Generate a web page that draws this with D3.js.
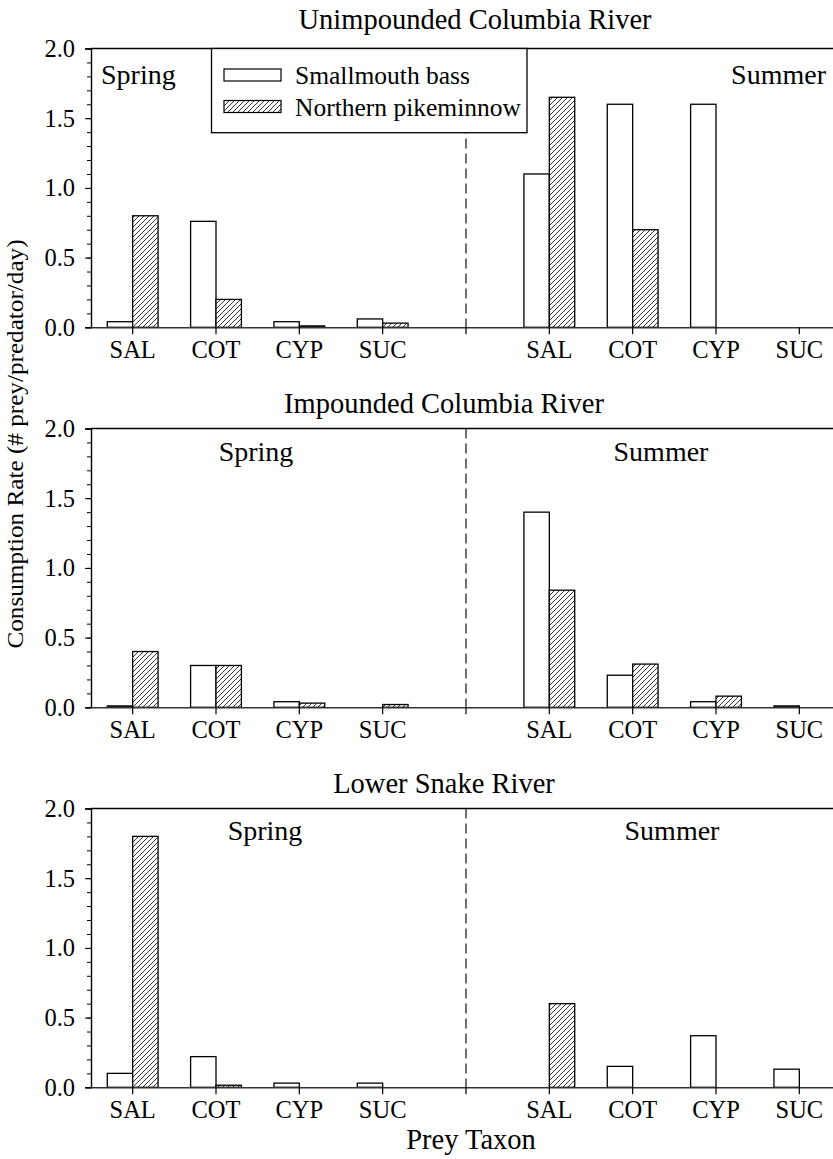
<!DOCTYPE html>
<html>
<head>
<meta charset="utf-8">
<script src="https://cdn.jsdelivr.net/npm/d3@7"></script>
<style>
  body { margin: 0; background: #fff; }
  svg { display: block; }
  text { font-family: "Liberation Serif", "Times New Roman", serif; fill: #000; }
</style>
</head>
<body>
<svg id="chart" width="833" height="1159"></svg>
<script>
// ---- data ----
const preyTaxa = ["SAL", "COT", "CYP", "SUC"];
const seasons = ["Spring", "Summer"];
const predators = ["Smallmouth bass", "Northern pikeminnow"];
const panelTitles = ["Unimpounded Columbia River", "Impounded Columbia River", "Lower Snake River"];
const yTickValues = [0, 0.5, 1.0, 1.5, 2.0];
const yMax = 2.0;

// consumption rate (# prey/predator/day), rows = season, columns = prey taxon
const unimpoundedBass = [[0.04, 0.76, 0.04, 0.06], [1.10, 1.60, 1.60, 0]];
const unimpoundedPike = [[0.80, 0.20, 0.01, 0.03], [1.65, 0.70, 0, 0]];
const impoundedBass   = [[0.01, 0.30, 0.04, 0], [1.40, 0.23, 0.04, 0.01]];
const impoundedPike   = [[0.40, 0.30, 0.03, 0.02], [0.84, 0.31, 0.08, 0]];
const snakeBass       = [[0.10, 0.22, 0.03, 0.03], [0, 0.15, 0.37, 0.13]];
const snakePike       = [[1.80, 0.015, 0, 0], [0.60, 0, 0, 0]];

const panelBass = [unimpoundedBass, impoundedBass, snakeBass];
const panelPike = [unimpoundedPike, impoundedPike, snakePike];

// ---- layout ----
const svg = d3.select("#chart");
const left = 91, right = 841;
const panelTop0 = 48.5, panelHeight = 278.8, panelStep = 380;
const titlePos = [[475, 29], [444, 413], [444, 793]];
// season label placement per panel: [x, baseline offset from panel top, anchor]
const seasonLabelPos = [
  [[101, 35, "start"], [826, 35, "end"]],
  [[256, 32.5, "middle"], [661, 32.5, "middle"]],
  [[265, 31.5, "middle"], [672, 31.5, "middle"]]
];

function label(g, x, y, str, size, anchor) {
  return g.append("text")
    .attr("x", x).attr("y", y)
    .attr("text-anchor", anchor || "start")
    .attr("font-size", size)
    .text(str);
}

// slots: four taxa per season with an empty slot between the seasons
const slotKeys = [
  ...preyTaxa.map(t => seasons[0] + "|" + t),
  "divider",
  ...preyTaxa.map(t => seasons[1] + "|" + t)
];
const x = d3.scaleBand().domain(slotKeys).range([left, right]).padding(0);
const barHalf = 25.4;
const xSub = d3.scaleBand().domain(predators).range([-barHalf, barHalf]).padding(0);

// hatch pattern for Northern pikeminnow
const defs = svg.append("defs");
const pat = defs.append("pattern")
  .attr("id", "hatch").attr("patternUnits", "userSpaceOnUse")
  .attr("width", 5).attr("height", 5);
pat.append("rect").attr("width", 5).attr("height", 5).attr("fill", "#fff");
pat.append("path")
  .attr("d", "M0,5 L5,0 M-1,1 L1,-1 M4,6 L6,4")
  .attr("stroke", "#000").attr("stroke-width", 0.8);

const fills = { "Smallmouth bass": "#fff", "Northern pikeminnow": "url(#hatch)" };

panelTitles.forEach((title, p) => {
  const top = panelTop0 + p * panelStep;
  const bottom = top + panelHeight;
  const y = d3.scaleLinear().domain([0, yMax]).range([bottom, top]);
  const g = svg.append("g");

  // panel title
  label(g, titlePos[p][0], titlePos[p][1], title, 28.5, "middle");

  // top frame line
  g.append("line")
    .attr("x1", left).attr("x2", right).attr("y1", top).attr("y2", top)
    .attr("stroke", "#000").attr("stroke-width", 1.4);

  // dashed divider between seasons
  const dx = x("divider") + x.bandwidth() / 2;
  g.append("line")
    .attr("x1", dx).attr("x2", dx).attr("y1", top).attr("y2", bottom)
    .attr("stroke", "#111").attr("stroke-width", 1.2)
    .attr("stroke-dasharray", "10,5");

  // bars
  const rows = [];
  seasons.forEach((s, si) => {
    preyTaxa.forEach((t, ti) => {
      rows.push({ key: s + "|" + t, pred: predators[0], v: panelBass[p][si][ti] });
      rows.push({ key: s + "|" + t, pred: predators[1], v: panelPike[p][si][ti] });
    });
  });
  g.selectAll("rect.bar").data(rows.filter(d => d.v > 0)).join("rect")
    .attr("class", "bar")
    .attr("x", d => x(d.key) + x.bandwidth() / 2 + xSub(d.pred))
    .attr("width", xSub.bandwidth())
    .attr("y", d => y(d.v))
    .attr("height", d => y(0) - y(d.v))
    .attr("fill", d => fills[d.pred])
    .attr("stroke", "#000").attr("stroke-width", 1.3);

  // y axis: minor ticks every 0.1, labelled majors every 0.5
  g.append("g").attr("transform", `translate(${left},0)`)
    .call(d3.axisLeft(y).tickValues(d3.range(0, 20.5, 1).map(v => v / 10)).tickSize(4).tickFormat(""))
    .call(a => a.select(".domain").remove())
    .call(a => a.selectAll("line").attr("stroke-width", 1));
  g.append("g").attr("transform", `translate(${left},0)`)
    .attr("font-family", "Liberation Serif")
    .call(d3.axisLeft(y).tickValues(yTickValues).tickSize(6).tickPadding(10).tickFormat(d3.format(".1f")))
    .call(a => a.select(".domain").attr("stroke-width", 1.4))
    .call(a => a.selectAll("text").attr("font-size", 24.5));

  // x axis
  g.append("g").attr("transform", `translate(0,${bottom})`)
    .attr("font-family", "Liberation Serif")
    .call(d3.axisBottom(x).tickSize(7).tickPadding(6).tickSizeOuter(0)
      .tickFormat(k => k === "divider" ? "" : k.split("|")[1]))
    .call(a => a.select(".domain").attr("stroke", "#333").attr("stroke-width", 1.4))
    .call(a => a.selectAll("line").attr("stroke-width", 1.2))
    .call(a => a.selectAll("text").attr("font-size", 24.5));

  // season labels
  seasons.forEach((s, si) => {
    const pos = seasonLabelPos[p][si];
    label(g, pos[0], top + pos[1], s, 28, pos[2]);
  });

  // legend in the first panel
  if (p === 0) {
    const lg = g.append("g");
    lg.append("rect")
      .attr("x", 211.5).attr("y", top).attr("width", 315.5).attr("height", 84.2)
      .attr("fill", "#fff").attr("stroke", "#000").attr("stroke-width", 1.3);
    predators.forEach((pred, i) => {
      const ry = 69 + i * 31.5;
      lg.append("rect")
        .attr("x", 224).attr("y", ry).attr("width", 57).attr("height", 12)
        .attr("fill", fills[pred]).attr("stroke", "#000").attr("stroke-width", 1.2);
      label(lg, 295, ry + 15, pred, 25.5, "start");
    });
  }
});

// shared axis titles
svg.append("text")
  .attr("transform", "translate(23,444) rotate(-90) scale(1.05,1)")
  .attr("text-anchor", "middle").attr("font-size", 24)
  .text("Consumption Rate (# prey/predator/day)");

label(svg, 471, 1149, "Prey Taxon", 28.5, "middle");
</script>
</body>
</html>
